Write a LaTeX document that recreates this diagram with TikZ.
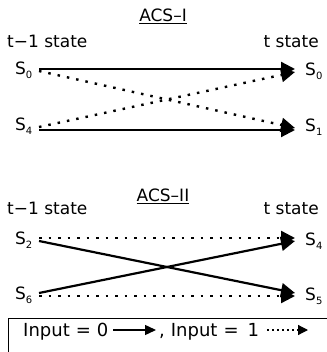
\documentclass[tikz,border=0pt]{standalone}
\usepackage{fontspec}
\setmainfont{DejaVu Sans}
\usetikzlibrary{arrows.meta}
% state label with a lowered index
\newcommand\Sn[1]{S\raisebox{-4pt}{\fontsize{10}{10}\selectfont #1}}
\begin{document}
\begin{tikzpicture}[x=1pt,y=-1pt,
  txt/.style={font=\fontsize{17}{17}\selectfont, inner sep=0pt},
  leg/.style={font=\fontsize{18}{18}\selectfont, inner sep=0pt},
  ttl/.style={font=\fontsize{17}{17}\selectfont, inner sep=0pt},
  zero/.style={line width=2.2pt, -{Triangle[length=14pt,width=14pt]}},
  one/.style={line width=2.4pt, dash pattern=on 2.5pt off 7pt, -{Triangle[length=14pt,width=14pt]}},
  zerosmall/.style={line width=1.4pt, -{Triangle[length=11pt,width=10pt]}},
  onesmall/.style={line width=1.2pt, dash pattern=on 2pt off 3pt, -{Triangle[length=10pt,width=10pt]}},
]
\useasboundingbox (0,0) rectangle (326,352);

% ---------- ACS-I ----------
\node[ttl] (t1) at (163,16) {\underline{ACS–I}};
\node[txt,anchor=base west] (l1) at (7,48) {t−1 state};
\node[txt,anchor=base east] (r1) at (319,48) {t state};

\node[txt,anchor=base west] (a0) at (15,75) {\Sn{0}};
\node[txt,anchor=base west] (a4) at (15,131) {\Sn{4}};
\node[txt,anchor=base west] (b0) at (305,76) {\Sn{0}};
\node[txt,anchor=base west] (b1) at (305,132) {\Sn{1}};

\coordinate (a0o) at (39,69);
\coordinate (a0d) at (39,71);
\coordinate (a4o) at (39,130);
\coordinate (a4d) at (39,127);
\coordinate (b0i) at (295,69);
\coordinate (b0d) at (295,72);
\coordinate (b1i) at (295,130);
\coordinate (b1d) at (295,128);

\draw[zero] (a0o) -- (b0i);
\draw[zero] (a4o) -- (b1i);
\draw[one] (a0d) -- (b1d);
\draw[one] (a4d) -- (b0d);

% ---------- ACS-II ----------
\node[ttl] (t2) at (163,196) {\underline{ACS–II}};
\node[txt,anchor=base west] (l2) at (7,214) {t−1 state};
\node[txt,anchor=base east] (r2) at (319,214) {t state};

\node[txt,anchor=base west] (c2) at (15,244) {\Sn{2}};
\node[txt,anchor=base west] (c6) at (15,299) {\Sn{6}};
\node[txt,anchor=base west] (d4) at (305,245) {\Sn{4}};
\node[txt,anchor=base west] (d5) at (305,300) {\Sn{5}};

\coordinate (c2d) at (39,238);
\coordinate (c2o) at (39,241);
\coordinate (c6o) at (39,293);
\coordinate (c6d) at (39,296);
\coordinate (d4d) at (295,238);
\coordinate (d4i) at (295,241);
\coordinate (d5i) at (295,293);
\coordinate (d5d) at (295,296);

\draw[one] (c2d) -- (d4d);
\draw[one] (c6d) -- (d5d);
\draw[zero] (c2o) -- (d5i);
\draw[zero] (c6o) -- (d4i);

% ---------- legend ----------
\draw[line width=1pt] (330,318) -- (8.5,318) -- (8.5,356);
\node[leg,anchor=base west] (k0) at (23,336) {Input\,\,=\,\,0};
\node[leg,anchor=base west] (k1) at (159,336) {,\,\,Input\,\,=\,\,\,1};
\coordinate (k0a) at (113,330);
\coordinate (k0b) at (156,330);
\coordinate (k1a) at (267,330);
\coordinate (k1b) at (308,330);
\draw[zerosmall] (k0a) -- (k0b);
\draw[onesmall] (k1a) -- (k1b);
\end{tikzpicture}
\end{document}
